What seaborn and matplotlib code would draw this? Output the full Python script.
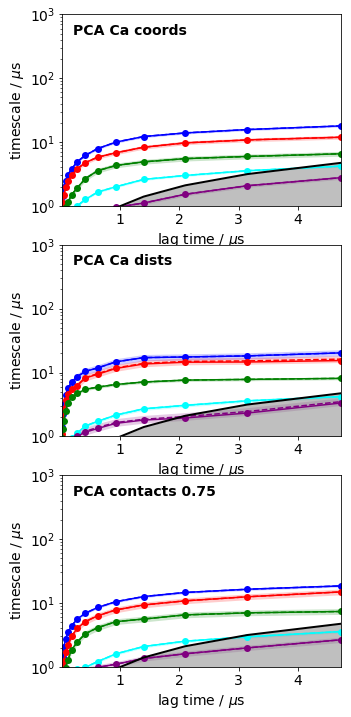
import numpy as np
import seaborn as sns
import matplotlib
matplotlib.use("Agg")
import matplotlib.pyplot as plt

# lag times in microseconds
lags = [0.024, 0.036, 0.055, 0.082, 0.123, 0.185, 0.277, 0.415, 0.623, 0.934, 1.40, 2.10, 3.15, 4.73]

colors = ["blue", "red", "green", "cyan", "purple"]
titles = ["PCA Ca coords", "PCA Ca dists", "PCA contacts 0.75"]

# implied timescales (us), one list per process
coords_blue = [1.1, 1.45, 1.95, 2.45, 3.1, 3.8, 4.9, 6.2, 7.9, 10.0, 12.2, 13.9, 15.7, 17.9]
coords_red = [0.8, 1.1, 1.47, 2.0, 2.45, 3.0, 3.8, 4.75, 5.8, 6.8, 8.3, 9.7, 10.8, 11.9]
coords_green = [0.5, 0.65, 0.8, 0.95, 1.15, 1.5, 1.91, 2.67, 3.56, 4.3, 4.9, 5.5, 5.95, 6.55]
coords_cyan = [0.3, 0.4, 0.5, 0.6, 0.75, 0.9, 1.0, 1.26, 1.65, 2.0, 2.6, 3.0, 3.56, 4.2]
coords_purple = [0.2, 0.25, 0.3, 0.35, 0.45, 0.55, 0.65, 0.75, 0.85, 0.95, 1.11, 1.52, 2.07, 2.77]

dists_blue = [1.4, 2.24, 3.2, 4.45, 5.7, 7.0, 8.6, 10.4, 11.8, 14.7, 17.1, 17.5, 18.2, 20.3]
dists_red = [1.1, 1.76, 2.7, 3.7, 4.6, 5.5, 6.2, 8.2, 9.4, 11.6, 13.6, 14.5, 14.6, 15.4]
dists_green = [0.95, 1.3, 1.75, 2.5, 3.3, 4.1, 4.7, 5.45, 5.9, 6.5, 7.1, 7.6, 7.8, 8.1]
dists_cyan = [0.4, 0.5, 0.6, 0.7, 0.8, 0.95, 1.13, 1.45, 1.72, 2.16, 2.7, 3.06, 3.6, 4.2]
dists_purple = [0.35, 0.45, 0.55, 0.65, 0.75, 0.88, 1.0, 1.16, 1.33, 1.6, 1.8, 1.94, 2.32, 3.33]
# bayesian sample means where they differ visibly from the ML estimate
dists_red_mean = [1.1, 1.76, 2.7, 3.7, 4.6, 5.5, 6.3, 8.3, 9.6, 11.8, 13.9, 14.9, 15.2, 16.2]
dists_purple_mean = [0.35, 0.45, 0.55, 0.65, 0.75, 0.9, 1.02, 1.2, 1.38, 1.65, 1.85, 2.05, 2.45, 3.5]

contacts_blue = [1.05, 1.43, 2.05, 2.74, 3.5, 4.4, 5.6, 6.9, 8.5, 10.5, 12.6, 14.6, 16.4, 18.5]
contacts_red = [0.75, 0.95, 1.23, 1.7, 2.2, 3.0, 4.0, 5.1, 6.3, 7.8, 9.3, 10.8, 12.5, 14.9]
contacts_green = [0.55, 0.7, 0.85, 0.97, 1.3, 1.85, 2.43, 3.3, 4.1, 5.1, 5.6, 6.5, 7.0, 7.35]
contacts_cyan = [0.35, 0.45, 0.55, 0.65, 0.75, 0.85, 0.92, 0.98, 1.21, 1.6, 2.08, 2.52, 2.95, 3.57]
contacts_purple = [0.25, 0.3, 0.4, 0.5, 0.6, 0.7, 0.8, 0.9, 0.98, 1.1, 1.35, 1.6, 1.98, 2.65]

# relative half-width of the confidence band per process
coords_spread = [0.04, 0.07, 0.09, 0.04, 0.06]
dists_spread = [0.12, 0.13, 0.05, 0.06, 0.15]
contacts_spread = [0.04, 0.11, 0.11, 0.05, 0.10]

panels = [
    ([coords_blue, coords_red, coords_green, coords_cyan, coords_purple],
     [coords_blue, coords_red, coords_green, coords_cyan, coords_purple], coords_spread),
    ([dists_blue, dists_red, dists_green, dists_cyan, dists_purple],
     [dists_blue, dists_red_mean, dists_green, dists_cyan, dists_purple_mean], dists_spread),
    ([contacts_blue, contacts_red, contacts_green, contacts_cyan, contacts_purple],
     [contacts_blue, contacts_red, contacts_green, contacts_cyan, contacts_purple], contacts_spread),
]

plt.rcParams["font.size"] = 14
fig, axes = plt.subplots(3, 1, figsize=(351 / 72, 717 / 72), dpi=72)
fig.subplots_adjust(left=0.177, right=0.972, top=0.980, bottom=0.070, hspace=0.203)

for ax, title, (ml, means, spread) in zip(axes, titles, panels):
    for ts, mean, w, c in zip(ml, means, spread, colors):
        mean = np.array(mean)
        ax.fill_between(lags, mean / (1 + w), mean * (1 + w), color=c, alpha=0.2, linewidth=0)
        sns.lineplot(x=lags, y=mean, ax=ax, color=c, linestyle="--", linewidth=1.5)
        sns.lineplot(x=lags, y=ts, ax=ax, color=c, marker="o", markersize=7,
                     markeredgecolor=c, markeredgewidth=0, linewidth=1.5)
    ax.plot(lags, lags, color="black", linewidth=2)
    ax.fill_between(lags, 1, lags, color="grey", alpha=0.5, linewidth=0)
    ax.set_yscale("log")
    ax.set_ylim(1, 1000)
    ax.set_xlim(lags[0], lags[-1])
    ax.set_xticks([1, 2, 3, 4])
    ax.set_xlabel(r"lag time / $\mu$s")
    ax.set_ylabel(r"timescale / $\mu$s")
    ax.text(0.04, 0.95, title, transform=ax.transAxes, ha="left", va="top",
            fontweight="bold", fontsize=14)

fig.savefig("out.png", dpi=72)
